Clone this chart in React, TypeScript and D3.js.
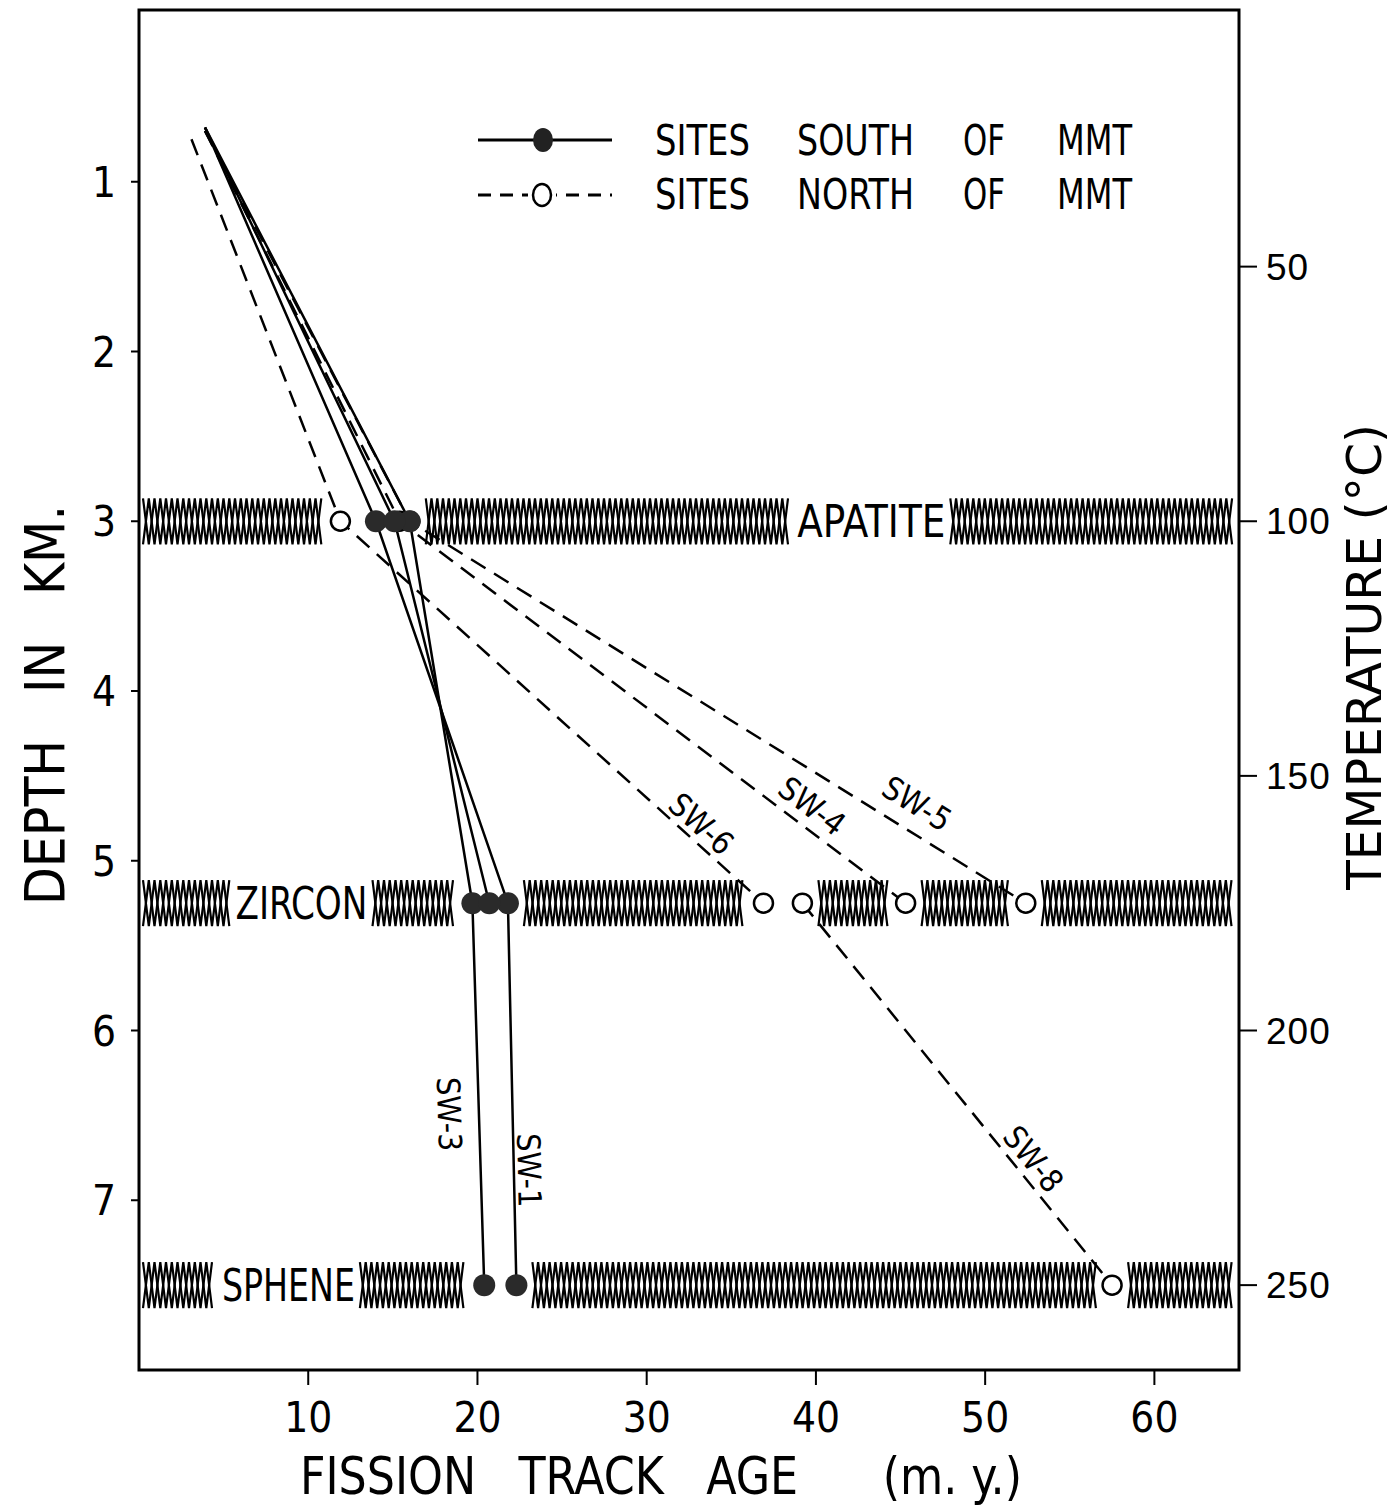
import React from 'react'
import * as d3 from 'd3'

// axis ticks
const ageTicks = [10, 20, 30, 40, 50, 60]
const depthTicks = [1, 2, 3, 4, 5, 6, 7]
const tempTicks = [50, 100, 150, 200, 250]

// closure horizons
const minerals = ['APATITE', 'ZIRCON', 'SPHENE']
const mineralDepth = [3, 5.25, 7.5]
const mineralLabelAge = [38.9, 5.7, 4.9]

// sites south of MMT (solid, filled dots)
const southNames = ['SW-3', 'SW-1', '']
const southTopAge = 3.9
const southTopDepth = 0.68
const southApatite = [16.0, 14.0, 15.1]
const southZircon = [19.7, 21.8, 20.7]
const southSphene = [20.4, 22.3, null]

// sites north of MMT (dashed, open circles)
const northNames = ['SW-6', 'SW-4', 'SW-5', 'SW-8']
const northTopAge = [3.1, 3.9, 3.9, null]
const northTopDepth = [0.75, 0.7, 0.7, null]
const northApatite = [11.9, 15.4, 16.0, null]
const northZircon = [36.9, 45.3, 52.4, 39.2]
const northSphene = [null, null, null, 57.5]

const FONT = "'Liberation Sans Narrow', 'DejaVu Sans Condensed', sans-serif"

const x = d3.scaleLinear().domain([0, 65]).range([139, 1239])
const y = d3.scaleLinear().domain([0, 8]).range([12, 1370])
const yT = d3.scaleLinear().domain([0, 800 / 3]).range([12, 1370])

const line = d3
  .line<[number, number]>()
  .x((d) => x(d[0]))
  .y((d) => y(d[1]))

const buildSeries = (top: (number | null)[], pts: (number | null)[]) => {
  const out: [number, number][] = []
  if (top[0] != null && top[1] != null) out.push([top[0], top[1]])
  pts.forEach((a, i) => {
    if (a != null) out.push([a, mineralDepth[i]])
  })
  return out
}

const south = southNames.map((name, i) => ({
  name,
  pts: buildSeries([southTopAge, southTopDepth], [southApatite[i], southZircon[i], southSphene[i]]),
  marks: [southApatite[i], southZircon[i], southSphene[i]],
}))

const north = northNames.map((name, i) => ({
  name,
  pts: buildSeries([northTopAge[i], northTopDepth[i]], [northApatite[i], northZircon[i], northSphene[i]]),
  marks: [northApatite[i], northZircon[i], northSphene[i]],
}))

// label placement along the last segment: [segment from end, t, perpendicular offset]
const labelSpots: Record<string, [number, number, number]> = {
  'SW-6': [1, 0.826, 17],
  'SW-4': [1, 0.79, 21],
  'SW-5': [1, 0.8, 27],
  'SW-8': [1, 0.7, 18],
  'SW-3': [1, 0.55, -30],
  'SW-1': [1, 0.7, 15],
}

const labelText = (name: string, pts: [number, number][]) => {
  const spot = labelSpots[name]
  if (!spot) return null
  const [fromEnd, t, off] = spot
  const a = pts[pts.length - 1 - fromEnd]
  const b = pts[pts.length - fromEnd]
  const ax = x(a[0]), ay = y(a[1]), bx = x(b[0]), by = y(b[1])
  const px = ax + (bx - ax) * t
  const py = ay + (by - ay) * t
  const ang = (Math.atan2(by - ay, bx - ax) * 180) / Math.PI
  return (
    <text
      key={'l' + name}
      transform={`translate(${px},${py}) rotate(${ang})`}
      y={-off}
      textAnchor="middle"
      dominantBaseline="central"
      fontFamily={FONT}
      fontSize={32}
    >
      {name}
    </text>
  )
}

// zig-zag band with gaps around markers and the mineral name
const bandPaths = (i: number, labelWidth: number) => {
  const yc = y(mineralDepth[i])
  const h = 23
  const p = 11.5
  const gaps: [number, number][] = []
  ;[...south, ...north].forEach((s) => {
    const a = s.marks[i]
    if (a != null) gaps.push([x(a) - 16, x(a) + 16])
  })
  const lx = x(mineralLabelAge[i])
  gaps.push([lx - 5, lx + labelWidth + 5])
  gaps.sort((g1, g2) => g1[0] - g2[0])
  const segs: [number, number][] = []
  let cur = x.range()[0] + 4
  gaps.forEach(([g0, g1]) => {
    if (g0 > cur) segs.push([cur, g0])
    cur = Math.max(cur, g1)
  })
  if (cur < x.range()[1] - 4) segs.push([cur, x.range()[1] - 4])
  const paths: string[] = []
  segs.forEach(([s0, s1]) => {
    if (s1 - s0 < p) return
    for (let phase = 0; phase < 2; phase++) {
      let d = ''
      let k = 0
      for (let xx = s0; xx <= s1 + 0.01; xx += p / 2, k++) {
        const top = (k + phase) % 2 === 0
        d += (k === 0 ? 'M' : 'L') + xx.toFixed(1) + ',' + (top ? yc - h : yc + h).toFixed(1)
      }
      paths.push(d)
    }
  })
  return paths
}

const labelWidths = [148, 132, 133]

export default function App() {
  const [x0, x1] = x.range()
  const [y0, y1] = y.range()
  return (
    <svg
      width={1393}
      height={1511}
      style={{ position: 'absolute', left: 0, top: 0, background: '#fff' }}
    >
      <rect x={0} y={0} width={1393} height={1511} fill="#fff" />

      {/* bands */}
      {minerals.map((m, i) => (
        <g key={m}>
          {bandPaths(i, labelWidths[i]).map((d, j) => (
            <path key={j} d={d} fill="none" stroke="#000" strokeWidth={2.2} />
          ))}
          <text
            x={x(mineralLabelAge[i])}
            y={y(mineralDepth[i]) + 16}
            fontFamily={FONT}
            fontSize={44}
            textLength={labelWidths[i]}
            lengthAdjust="spacingAndGlyphs"
          >
            {m}
          </text>
        </g>
      ))}

      {/* frame */}
      <rect x={x0} y={y0 - 2} width={x1 - x0} height={y1 - y0 + 2} fill="none" stroke="#000" strokeWidth={3} />

      {/* bottom axis */}
      {ageTicks.map((t) => (
        <g key={'a' + t}>
          <line x1={x(t)} x2={x(t)} y1={y1} y2={y1 + 15} stroke="#000" strokeWidth={2} />
          <text x={x(t)} y={y1 + 62} textAnchor="middle" fontFamily={FONT} fontSize={42}>
            {t}
          </text>
        </g>
      ))}
      <text
        x={300}
        y={1494}
        fontFamily={FONT}
        fontSize={52}
        textLength={722}
        lengthAdjust="spacingAndGlyphs"
        style={{ whiteSpace: 'pre' }}
      >
        {'FISSION   TRACK   AGE      (m. y.)'}
      </text>

      {/* left axis */}
      {depthTicks.map((t) => (
        <g key={'d' + t}>
          <line x1={x0 - 8} x2={x0} y1={y(t)} y2={y(t)} stroke="#000" strokeWidth={2} />
          <text x={116} y={y(t) + 15} textAnchor="end" fontFamily={FONT} fontSize={42}>
            {t}
          </text>
        </g>
      ))}
      <text
        transform="translate(64,905) rotate(-90)"
        fontFamily={FONT}
        fontSize={56}
        textLength={400}
        lengthAdjust="spacingAndGlyphs"
        style={{ whiteSpace: 'pre' }}
      >
        {'DEPTH   IN   KM.'}
      </text>

      {/* right axis */}
      {tempTicks.map((t) => (
        <g key={'t' + t}>
          <line x1={x1} x2={x1 + 18} y1={yT(t)} y2={yT(t)} stroke="#000" strokeWidth={2} />
          <text x={1266} y={yT(t) + 13} fontFamily="'Liberation Sans', sans-serif" fontSize={37} letterSpacing={1}>
            {t}
          </text>
        </g>
      ))}
      <text
        transform="translate(1381,890) rotate(-90)"
        fontFamily={FONT}
        fontSize={48}
        textLength={466}
        lengthAdjust="spacingAndGlyphs"
      >
        TEMPERATURE (°C)
      </text>

      {/* legend */}
      <line x1={478} x2={612} y1={140} y2={140} stroke="#000" strokeWidth={3} />
      <ellipse cx={543} cy={140} rx={10} ry={12} fill="#222" />
      <line x1={478} x2={612} y1={195} y2={195} stroke="#000" strokeWidth={3} strokeDasharray="13 9" />
      <rect x={528} y={182} width={28} height={26} fill="#fff" />
      <ellipse cx={542} cy={195} rx={9} ry={11} fill="#fff" stroke="#000" strokeWidth={2.5} />
      {[
        ['SITES', 655, 95],
        ['SOUTH', 797, 117],
        ['OF', 963, 42],
        ['MMT', 1057, 75],
      ].map(([w, xx, len]) => (
        <text key={'s' + w} x={xx as number} y={155} fontFamily={FONT} fontSize={42} textLength={len as number} lengthAdjust="spacingAndGlyphs">
          {w}
        </text>
      ))}
      {[
        ['SITES', 655, 95],
        ['NORTH', 797, 117],
        ['OF', 963, 42],
        ['MMT', 1057, 75],
      ].map(([w, xx, len]) => (
        <text key={'n' + w} x={xx as number} y={209} fontFamily={FONT} fontSize={42} textLength={len as number} lengthAdjust="spacingAndGlyphs">
          {w}
        </text>
      ))}

      {/* north lines */}
      {north.map((s) => (
        <path key={'nl' + s.name} d={line(s.pts) || ''} fill="none" stroke="#000" strokeWidth={2.5} strokeDasharray="17 10" />
      ))}
      {/* south lines */}
      {south.map((s) => (
        <path key={'sl' + s.name} d={line(s.pts) || ''} fill="none" stroke="#000" strokeWidth={2.5} />
      ))}

      {/* open circles */}
      {north.map((s) =>
        s.marks.map((a, i) =>
          a == null ? null : (
            <circle key={'nc' + s.name + i} cx={x(a)} cy={y(mineralDepth[i])} r={9.5} fill="#fff" stroke="#000" strokeWidth={2.5} />
          )
        )
      )}
      {/* filled dots */}
      {south.map((s) =>
        s.marks.map((a, i) =>
          a == null ? null : (
            <circle key={'sc' + s.name + i} cx={x(a)} cy={y(mineralDepth[i])} r={11} fill="#2a2a2a" />
          )
        )
      )}

      {/* site labels */}
      {[...north, ...south].map((s) => labelText(s.name, s.pts))}
    </svg>
  )
}
